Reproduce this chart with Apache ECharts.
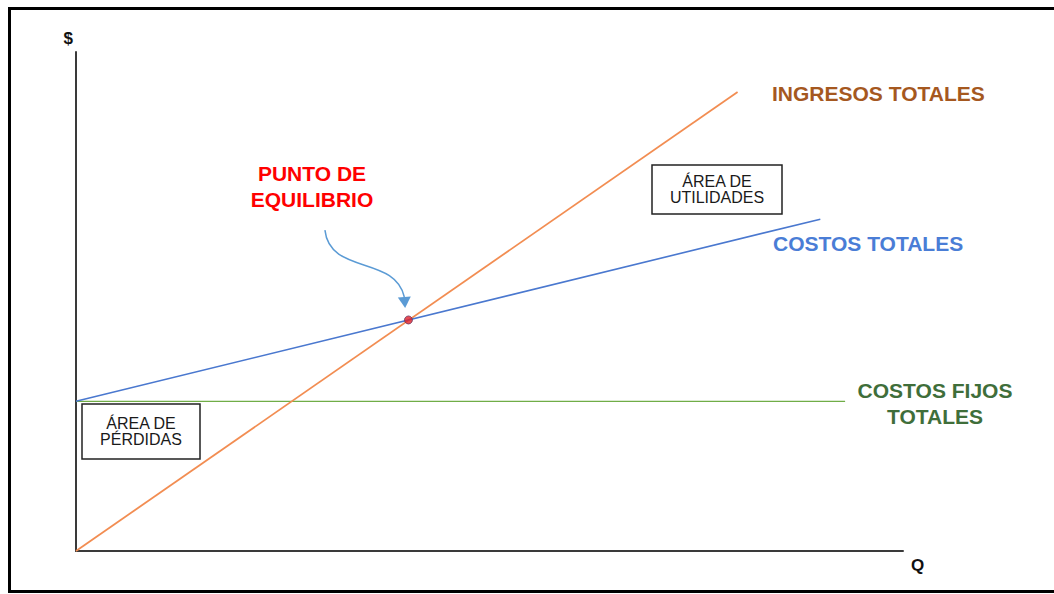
<!DOCTYPE html>
<html>
<head>
<meta charset="utf-8">
<script src="https://cdn.jsdelivr.net/npm/echarts@6/dist/echarts.min.js"></script>
<style>
  html, body { margin: 0; padding: 0; background: #fff; }
  #main { width: 1054px; height: 594px; }
</style>
</head>
<body>
<div id="main"></div>
<script>
// values (Q on x, $ on y, both 0..100)
const ingresosTotales = [[0, 0], [80, 92]];
const costosTotales = [[0, 30], [90, 66.5]];
const costosFijos = [[0, 30], [93, 30]];
const puntoEquilibrio = [[40.2, 46.3]];
// curved pointer: start, ctrl1, ctrl2, end, tip
const flecha = [30.1, 64.3, 30.7, 55.3, 38.6, 59.3, 39.7, 50.9, 39.8, 48.7];

const font = '"Liberation Sans", Arial, sans-serif';

// chart init
const myChart = echarts.init(document.getElementById('main'), null, { renderer: 'svg' });

function drawArrow(params, api) {
    const p = [0, 1, 2, 3, 4].map(i => api.coord([api.value(2 * i), api.value(2 * i + 1)]));
    const end = p[3], tip = p[4];
    const dx = tip[0] - end[0], dy = tip[1] - end[1];
    const len = Math.sqrt(dx * dx + dy * dy) || 1;
    const nx = -dy / len * 6.5, ny = dx / len * 6.5;
    return {
        type: 'group',
        children: [{
            type: 'bezierCurve',
            shape: {
                x1: p[0][0], y1: p[0][1],
                cpx1: p[1][0], cpy1: p[1][1],
                cpx2: p[2][0], cpy2: p[2][1],
                x2: end[0], y2: end[1]
            },
            style: { stroke: '#5B9BD5', lineWidth: 1.5, fill: null }
        }, {
            type: 'polygon',
            shape: { points: [tip, [end[0] + nx, end[1] + ny], [end[0] - nx, end[1] - ny]] },
            style: { fill: '#5B9BD5' }
        }]
    };
}

function label(text, x, y, color, size, align, weight) {
    return {
        type: 'text',
        x: x, y: y,
        style: {
            text: text,
            fill: color,
            font: (weight || 'bold') + ' ' + size + 'px ' + font,
            align: align || 'left',
            verticalAlign: 'middle',
            lineHeight: size + 5
        }
    };
}

function caja(text, x, y, w, h) {
    return {
        type: 'group',
        children: [{
            type: 'rect',
            shape: { x: x, y: y, width: w, height: h },
            style: { fill: '#fff', stroke: '#222', lineWidth: 1.5 }
        }, {
            type: 'text',
            x: x + w / 2, y: y + h / 2,
            style: {
                text: text,
                fill: '#1a1a1a',
                font: 'normal 16px ' + font,
                align: 'center',
                verticalAlign: 'middle',
                lineHeight: 16
            }
        }]
    };
}

// option config
const option = {
    backgroundColor: '#fff',
    animation: false,
    grid: { left: 76, right: 151, top: 52, bottom: 43 },
    xAxis: {
        type: 'value',
        min: 0,
        max: 100,
        name: 'Q',
        nameGap: 8,
        nameTextStyle: {
            fontFamily: font, fontWeight: 'bold', fontSize: 17, color: '#111',
            verticalAlign: 'top', padding: [6, 0, 0, 0]
        },
        axisLine: { lineStyle: { color: '#3a3a3a', width: 2 } },
        axisTick: { show: false },
        axisLabel: { show: false },
        splitLine: { show: false }
    },
    yAxis: {
        type: 'value',
        min: 0,
        max: 100,
        name: '$',
        nameGap: 5,
        nameTextStyle: {
            fontFamily: font, fontWeight: 'bold', fontSize: 17, color: '#111',
            align: 'right', padding: [0, 3, 0, 0]
        },
        axisLine: { show: true, lineStyle: { color: '#3a3a3a', width: 2 } },
        axisTick: { show: false },
        axisLabel: { show: false },
        splitLine: { show: false }
    },
    graphic: [
        {
            type: 'rect',
            shape: { x: 9.5, y: 8.5, width: 1100, height: 583 },
            style: { fill: null, stroke: '#000', lineWidth: 3 },
            z: 100
        },
        label('INGRESOS TOTALES', 772, 93, '#A5581F', 21),
        label('COSTOS TOTALES', 773, 243, '#4A7DD6', 21),
        label('COSTOS FIJOS\nTOTALES', 935, 403, '#3F6E3A', 21, 'center'),
        label('PUNTO DE\nEQUILIBRIO', 312, 186, '#FF0000', 21, 'center'),
        caja('ÁREA DE\nUTILIDADES', 652, 165, 130, 49),
        caja('ÁREA DE\nPÉRDIDAS', 82, 404, 118, 55)
    ],
    series: [{
        name: 'Ingresos totales',
        type: 'line',
        data: ingresosTotales,
        symbol: 'none',
        lineStyle: { color: '#F28D52', width: 1.8 },
        z: 3
    }, {
        name: 'Costos totales',
        type: 'line',
        data: costosTotales,
        symbol: 'none',
        lineStyle: { color: '#4A78CF', width: 1.6 },
        z: 3
    }, {
        name: 'Costos fijos totales',
        type: 'line',
        data: costosFijos,
        symbol: 'none',
        lineStyle: { color: '#70AD47', width: 1.3 },
        z: 2
    }, {
        name: 'Punto de equilibrio',
        type: 'scatter',
        data: puntoEquilibrio,
        symbolSize: 8,
        itemStyle: { color: '#E0202A', borderColor: '#6A3A60', borderWidth: 1 },
        z: 5
    }, {
        name: 'Flecha',
        type: 'custom',
        data: [flecha],
        renderItem: drawArrow,
        silent: true,
        clip: false,
        z: 4
    }]
};

// paint
myChart.setOption(option);
</script>
</body>
</html>
